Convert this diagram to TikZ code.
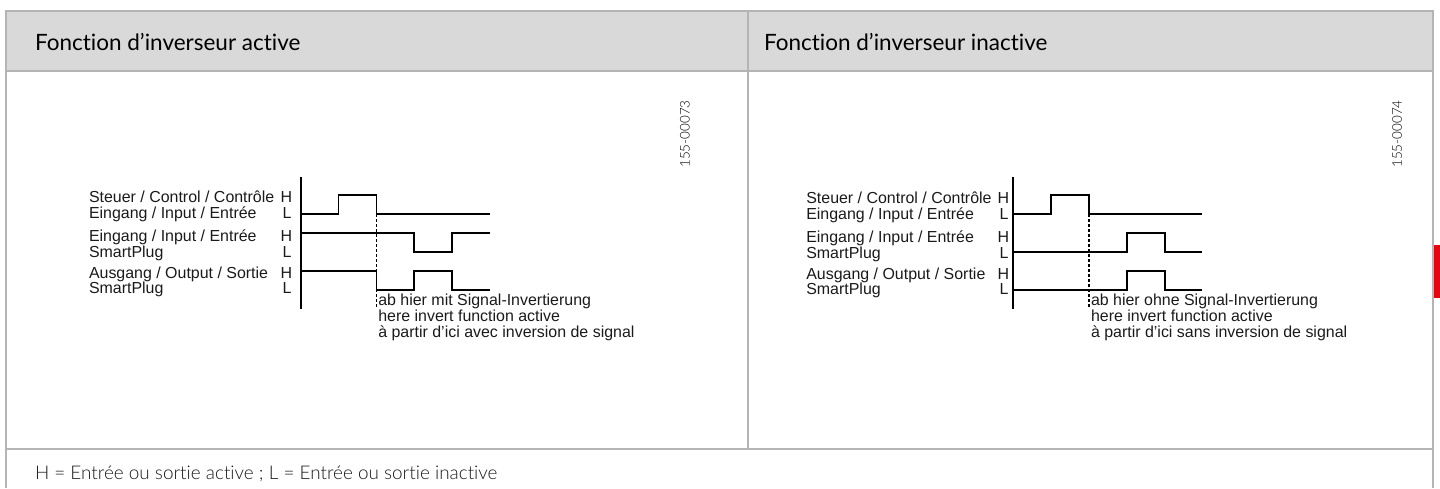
\documentclass[tikz,border=0pt]{standalone}
\usepackage{fontspec}
\setmainfont{Liberation Sans}
\newfontfamily\headfont[Ligatures=NoCommon]{Lato}
\newfontfamily\lightfont[Ligatures=NoCommon]{Lato Light}
\definecolor{framegrey}{HTML}{B4B4B4}
\definecolor{headgrey}{HTML}{D9D9D9}
\definecolor{tabred}{HTML}{E30613}
\definecolor{inktext}{HTML}{1A1A1A}
\begin{document}
\begin{tikzpicture}[x=1pt,y=-1pt,
  frameline/.style={draw=framegrey,line width=1.7pt},
  trace/.style={draw=black,line width=1.1pt},
  guide/.style={draw=black,line width=1.05pt,dash pattern=on 3pt off 2pt},
  lab/.style={anchor=base west,inner sep=0pt,outer sep=0pt,font=\fontsize{15.95}{18}\selectfont,text=inktext},
  head/.style={anchor=base west,inner sep=0pt,outer sep=0pt,font=\headfont\fontsize{22.5}{24}\selectfont,text=black},
  foot/.style={anchor=base west,inner sep=0pt,outer sep=0pt,font=\lightfont\fontsize{18.9}{22}\selectfont,text=inktext},
  code/.style={inner sep=0pt,outer sep=0pt,rotate=90,font=\lightfont\fontsize{13.4}{15}\selectfont,text=black}]
\useasboundingbox (0,0) rectangle (1440,488);
% table
\fill[headgrey] (6,11) rectangle (1433,71);
\fill[tabred] (1434,245) rectangle (1440,298);
\draw[frameline] (6,488) -- (6,11) -- (1433,11) -- (1433,488);
\draw[frameline] (6,71) -- (1433,71);
\draw[frameline] (6,449) -- (1433,449);
\draw[frameline] (748,11) -- (748,449);
\node[head] (h1) at (35,50.7) {Fonction d’inverseur active};
\node[head] (h2) at (764,50.7) {Fonction d’inverseur inactive};
\node[foot] (f) at (35,479) {H = Entrée ou sortie active ; L = Entrée ou sortie inactive};
\node[code] (c1) at (685,134) {155-00073};
\node[code] (c2) at (1397,134) {155-00074};
% left diagram
\node[lab] (a1) at (89,202) {Steuer / Control / Contrôle};
\node[lab] (a2) at (89,218) {Eingang / Input / Entrée};
\node[lab] (a3) at (89,241) {Eingang / Input / Entrée};
\node[lab] (a4) at (89,257) {SmartPlug};
\node[lab] (a5) at (89,278) {Ausgang / Output / Sortie};
\node[lab] (a6) at (89,293.5) {SmartPlug};
\foreach \n/\y in {1/202,3/241,5/278}{\node[lab] (aH\n) at (280.7,\y) {H};}
\foreach \n/\y in {2/218,4/257,6/293.5}{\node[lab] (aL\n) at (282.7,\y) {L};}
\coordinate (atop) at (301,177);
\coordinate (abot) at (301,308.5);
\draw[trace] (atop) -- (abot);
\draw[trace] (301,214) -| (338.5,195) -| (376.5,214) -- (490,214);
\draw[trace] (301,233) -| (414,252) -| (452,233) -- (490,233);
\draw[trace] (301,271) -| (376.5,290) -| (414,271) -| (452,290) -- (490,290);
\coordinate (ad1) at (376.5,214);
\coordinate (ad2) at (376.5,308.5);
\draw[guide] (ad1) -- (ad2);
\node[lab] (an1) at (378.3,305) {ab hier mit Signal-Invertierung};
\node[lab] (an2) at (378.3,321) {here invert function active};
\node[lab] (an3) at (378.3,337) {à partir d’ici avec inversion de signal};
% right diagram
\node[lab] (b1) at (806.3,203) {Steuer / Control / Contrôle};
\node[lab] (b2) at (806.3,219) {Eingang / Input / Entrée};
\node[lab] (b3) at (806.3,242) {Eingang / Input / Entrée};
\node[lab] (b4) at (806.3,258) {SmartPlug};
\node[lab] (b5) at (806.3,279) {Ausgang / Output / Sortie};
\node[lab] (b6) at (806.3,294.5) {SmartPlug};
\foreach \n/\y in {1/203,3/242,5/279}{\node[lab] (bH\n) at (997.5,\y) {H};}
\foreach \n/\y in {2/219,4/258,6/294.5}{\node[lab] (bL\n) at (999.5,\y) {L};}
\coordinate (btop) at (1013,177);
\coordinate (bbot) at (1013,308.5);
\draw[trace] (btop) -- (bbot);
\draw[trace] (1013,214) -| (1051,195) -| (1089,214) -- (1202,214);
\draw[trace] (1013,252) -| (1127,233) -| (1165,252) -- (1202,252);
\draw[trace] (1013,290) -| (1127,271) -| (1165,290) -- (1202,290);
\coordinate (bd1) at (1089,214);
\coordinate (bd2) at (1089,308.5);
\draw[guide] (bd1) -- (bd2);
\node[lab] (bn1) at (1091,305) {ab hier ohne Signal-Invertierung};
\node[lab] (bn2) at (1091,321) {here invert function active};
\node[lab] (bn3) at (1091,337) {à partir d’ici sans inversion de signal};
\end{tikzpicture}
\end{document}
